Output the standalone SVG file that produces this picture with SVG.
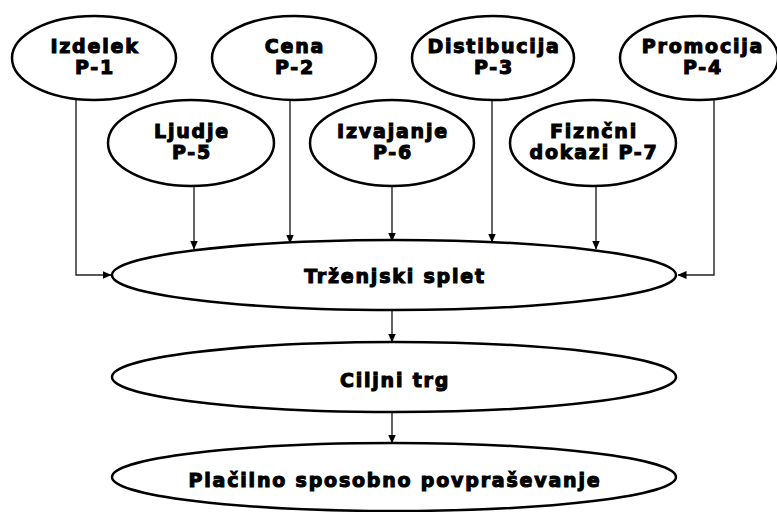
<svg xmlns="http://www.w3.org/2000/svg" width="777" height="512" viewBox="0 0 777 512">
<style>
.n ellipse{fill:#fff;stroke:#000;stroke-width:2.5}
.n text{font-family:"DejaVu Sans",sans-serif;font-weight:bold;font-size:19px;text-anchor:middle;fill:#000;stroke:#000;stroke-width:1.1;letter-spacing:1.8px}
.c path{fill:none;stroke:#222;stroke-width:1.4}
</style>
<defs>
<marker id="a" markerWidth="9" markerHeight="8" refX="8.5" refY="4" orient="auto" markerUnits="userSpaceOnUse">
<path d="M0,0 L9,4 L0,8 Z" fill="#000"/>
</marker>
</defs>
<rect width="777" height="512" fill="#fff"/>
<g class="c">
<path d="M76,100 V275 H111" marker-end="url(#a)"/>
<path d="M290,100 V243" marker-end="url(#a)"/>
<path d="M492,100 V242" marker-end="url(#a)"/>
<path d="M714,100 V275 H678" marker-end="url(#a)"/>
<path d="M194,186 V249" marker-end="url(#a)"/>
<path d="M392,186 V241" marker-end="url(#a)"/>
<path d="M596,186 V249" marker-end="url(#a)"/>
<path d="M392,310 V342" marker-end="url(#a)"/>
<path d="M392,412 V443" marker-end="url(#a)"/>
</g>
<g id="izdelek" class="n"><ellipse cx="94" cy="58" rx="82" ry="42"/><text x="95" y="53">Izdelek</text><text x="95" y="74">P-1</text></g>
<g id="cena" class="n"><ellipse cx="294" cy="58" rx="82" ry="42"/><text x="295" y="53">Cena</text><text x="295" y="74">P-2</text></g>
<g id="distibucija" class="n"><ellipse cx="493" cy="58" rx="81" ry="42"/><text x="494" y="53">Distibucija</text><text x="494" y="74">P-3</text></g>
<g id="promocija" class="n"><ellipse cx="699" cy="58" rx="79" ry="42"/><text x="703" y="53">Promocija</text><text x="703" y="74">P-4</text></g>
<g id="ljudje" class="n"><ellipse cx="191" cy="143" rx="83" ry="43"/><text x="192" y="138">Ljudje</text><text x="192" y="159">P-5</text></g>
<g id="izvajanje" class="n"><ellipse cx="392" cy="143" rx="82" ry="43"/><text x="393" y="138">Izvajanje</text><text x="393" y="159">P-6</text></g>
<g id="dokazi" class="n"><ellipse cx="593" cy="143" rx="83" ry="43"/><text x="594" y="138">Fiznčni</text><text x="594" y="159">dokazi P-7</text></g>
<g id="splet" class="n"><ellipse cx="394" cy="275" rx="282" ry="35"/><text x="395" y="283">Trženjski splet</text></g>
<g id="trg" class="n"><ellipse cx="394" cy="377" rx="282" ry="35"/><text x="395" y="387">Ciljni trg</text></g>
<g id="povp" class="n"><ellipse cx="394" cy="477" rx="282" ry="34"/><text x="395" y="487">Plačilno sposobno povpraševanje</text></g>
</svg>
